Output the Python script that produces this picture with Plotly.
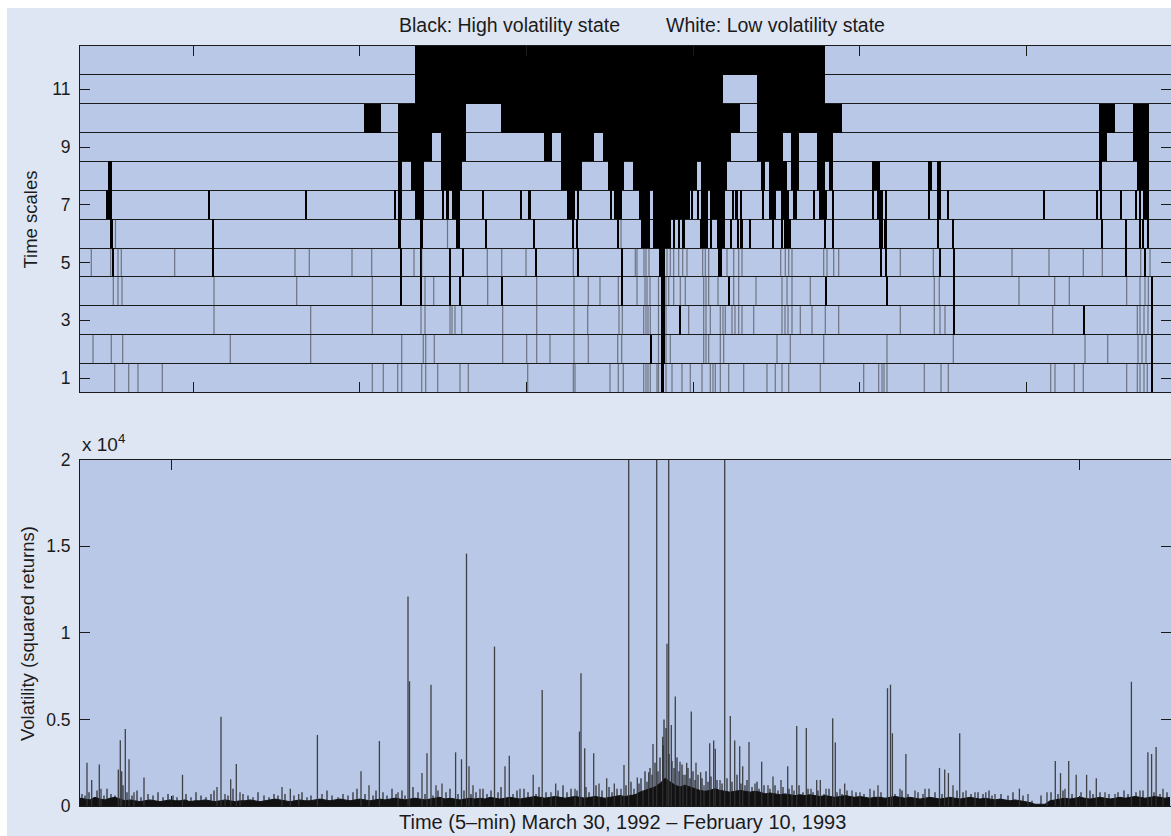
import plotly.graph_objects as go

# Both panels share one time axis, expressed in time bins
X_MAX = 1091

# ---------------------------------------------------------------------------
# Top panel: high-volatility runs (start, end) for each of the 12 time scales
# ---------------------------------------------------------------------------
runs_s12 = [(335, 745)]
runs_s11 = [(335, 643), (677, 745)]
runs_s10 = [(284, 301), (318, 386), (421, 660), (677, 762), (1019, 1035), (1053, 1069)]
runs_s9 = [(318, 352), (361, 386), (464, 472), (481, 514), (523, 651), (677, 703),
           (711, 719), (737, 753), (1019, 1027), (1053, 1069)]
runs_s8 = [(28, 32), (318, 321.5), (331, 344), (361, 382), (481, 502), (528, 544),
           (553, 617), (621, 647), (681, 685), (689, 707), (711, 719), (737, 745),
           (749, 753), (792, 800), (848, 852), (857, 861), (1019, 1022), (1057, 1069)]
runs_s7 = [(26, 32.3), (128.3, 130.3), (224.7, 226.7), (314.3, 315.7), (317.7, 321.7),
           (335, 344), (362.3, 364.3), (365.7, 369.3), (371.7, 380), (402, 403.7),
           (440.3, 442.3), (448.3, 450.7), (487, 495.3), (497, 499.3), (530, 532),
           (534.3, 542.3), (559.3, 570.3), (572.7, 610.3), (611.3, 613), (617, 618.7),
           (621.3, 628), (630, 645.3), (652, 653.7), (655.3, 658), (660.3, 662),
           (682, 683.7), (689.3, 696), (701, 708.7), (713.3, 717.3), (733.7, 735.3),
           (738.7, 747), (752, 753.3), (792, 794.3), (796.7, 802.7), (805.3, 807),
           (847.7, 850), (856.7, 860.7), (866.7, 869), (963, 965), (1016.3, 1017.7),
           (1020, 1022.3), (1040, 1042), (1055, 1056.7), (1059.3, 1060.7), (1063.3, 1069.3)]
runs_s6 = [(30, 33.3), (131.7, 133.7), (317.7, 321), (340, 342.7), (376, 380.3),
           (405, 406.7), (453.3, 455.3), (492.7, 494.3), (496, 497.7), (536.7, 539.3),
           (561.3, 570.3), (572.7, 591.3), (592.7, 594.7), (597.7, 600.3), (602, 605.3),
           (620.3, 628), (630.3, 632), (637, 645.3), (650.3, 652), (657, 658.7),
           (660.3, 663), (669.3, 671), (692, 693.7), (700.7, 702.7), (704, 711.3),
           (743.7, 746), (752, 753.7), (798.7, 802.7), (804, 806.7), (857.3, 859.3),
           (872, 874.3), (1021, 1023), (1045.7, 1047), (1058.7, 1060.7), (1062, 1064.3),
           (1066.7, 1068.7)]
runs_s5 = [(32, 33.5), (132.5, 134), (319.5, 321.5), (339.5, 341.5), (368.5, 370.5),
           (381.5, 383.5), (454.5, 456.5), (497, 499), (541, 543), (579, 585),
           (638, 642), (800, 802), (804.5, 806.5), (858.5, 860.5), (873, 875),
           (1045, 1047), (1064, 1066)]
runs_s4 = [(320.5, 322), (340, 342), (369, 371), (378.5, 380.5), (421.5, 423),
           (541.5, 543), (580.5, 584.5), (647.7, 649.7), (745, 747), (806, 808),
           (873, 875), (1071, 1072.5)]
runs_s3 = [(580.5, 584.5), (599.5, 601), (873, 875), (1003, 1005), (1071, 1072.5)]
runs_s2 = [(570, 571.5), (580.5, 584.5), (1071, 1072.5)]
runs_s1 = [(580.5, 584), (1071, 1072.5)]

# Brief (single-bin) high-volatility flags, drawn as faint lines
flags_s6 = [35.5, 367.5, 541]
flags_s5 = [11.3, 30.7, 38, 41.3, 94.7, 215, 229.3, 272, 291.7, 334, 341.7, 407.3,
            421.7, 446, 493.3, 555.3, 557, 564, 566, 569, 587, 590.3, 593.7, 598.7,
            602.7, 607, 622.7, 625.3, 628.7, 647, 653.7, 658.7, 662, 700.7, 705.3,
            708.7, 712, 743.7, 747, 753.7, 758.7, 820.3, 853.3, 932, 969, 1003.3,
            1022.3, 1060.7, 1070]
flags_s4 = [33.3, 38, 42, 134, 216.7, 292.3, 345, 353.7, 407.7, 456.7, 494, 508.3,
            520, 538.3, 557, 565, 567, 570, 578.5, 586, 588.7, 593.7, 600.3, 605.3,
            623.7, 626, 628.7, 638, 653.7, 658.7, 676, 702, 707, 712, 730.3, 854.3,
            859.3, 939, 974.7, 989.3, 1046.7, 1060, 1065, 1068.3]
flags_s3 = [134, 230.7, 292.3, 341, 345, 370, 372, 375, 381.7, 422.7, 456.7, 494,
            507.7, 539, 542.3, 563.7, 566, 568, 570.3, 578.5, 586, 608.7, 623.7, 626,
            630.3, 640.3, 643, 645.3, 652, 655, 658.7, 662, 673.7, 702, 705, 708, 712,
            720.3, 732, 745.3, 758.7, 820.3, 854.3, 860, 865, 972.7, 1057.3, 1060,
            1064, 1068]
flags_s2 = [13, 31.3, 42.7, 150.3, 230.7, 321.7, 343.3, 345.7, 354.3, 422.7, 446.7,
            456.7, 470, 494, 508.3, 537.7, 541.7, 578.5, 586, 590.3, 623.7, 626, 628.7,
            640.3, 643.7, 697, 710.3, 743.7, 807, 873.3, 1005, 1027.7, 1058, 1062, 1066]
flags_s1 = [34.7, 48.7, 58, 82.3, 292.3, 303.3, 317.7, 321.7, 341.7, 345.7, 357.7,
            380, 388.3, 447.7, 493.3, 495, 530, 538.3, 543.3, 563.7, 566, 568, 570.3,
            577, 578.5, 586, 592, 602, 610.3, 622, 630.3, 633, 635.3, 640.3, 648.7,
            663.7, 687, 695.3, 702, 708.7, 740.3, 783.7, 798.7, 802, 804, 807, 844.3,
            861, 868.3, 970.7, 975, 994.3, 1003.3, 1046.7, 1057.3, 1060, 1064, 1067.3]

runs_by_scale = {12: runs_s12, 11: runs_s11, 10: runs_s10, 9: runs_s9, 8: runs_s8,
                 7: runs_s7, 6: runs_s6, 5: runs_s5, 4: runs_s4, 3: runs_s3,
                 2: runs_s2, 1: runs_s1}
flags_by_scale = {6: flags_s6, 5: flags_s5, 4: flags_s4, 3: flags_s3,
                  2: flags_s2, 1: flags_s1}

scale_ticks = [1, 3, 5, 7, 9, 11]
scale_bounds = [k + 0.5 for k in range(0, 13)]
time_ticks_top = [113.3, 279.7, 446.3, 613.3, 779.3, 946.3]
time_ticks_bottom = [91.8, 999.2]

# ---------------------------------------------------------------------------
# Bottom panel: squared returns (units of 10^4)
# ---------------------------------------------------------------------------
noise_step = 5
noise_v = [
    0.045, 0.04, 0.035, 0.05,
    0.04, 0.035, 0.045, 0.05, 0.04, 0.03,
    0.035, 0.03, 0.025, 0.03, 0.035, 0.03, 0.025, 0.03, 0.035, 0.03,
    0.03, 0.035, 0.025, 0.03, 0.03, 0.035, 0.03, 0.025, 0.03, 0.035,
    0.03, 0.025, 0.03, 0.03, 0.035, 0.03, 0.025, 0.03, 0.035, 0.04,
    0.035, 0.03, 0.025, 0.03, 0.035, 0.03, 0.03, 0.035, 0.04, 0.035,
    0.03, 0.035, 0.04, 0.035, 0.03, 0.035, 0.04, 0.035, 0.03, 0.035,
    0.04, 0.035, 0.04, 0.045, 0.04, 0.035, 0.04, 0.045, 0.04, 0.035,
    0.04, 0.045, 0.05, 0.04, 0.045, 0.04, 0.035, 0.04, 0.045, 0.04,
    0.045, 0.04, 0.05, 0.045, 0.04, 0.045, 0.05, 0.045, 0.04, 0.045,
    0.05, 0.055, 0.05, 0.045, 0.05, 0.055, 0.05, 0.045, 0.05, 0.055,
    0.05, 0.045, 0.05, 0.055, 0.05, 0.045, 0.05, 0.055, 0.06, 0.055,
    0.06, 0.065, 0.08, 0.09, 0.1, 0.11, 0.13, 0.16, 0.14, 0.12,
    0.11, 0.12, 0.11, 0.1, 0.09, 0.085, 0.09, 0.1, 0.09, 0.085,
    0.08, 0.085, 0.09, 0.085, 0.08, 0.085, 0.08, 0.07, 0.075, 0.07,
    0.065, 0.07, 0.065, 0.06, 0.065, 0.06, 0.065, 0.06, 0.055, 0.06,
    0.055, 0.05, 0.055, 0.06, 0.055, 0.05, 0.055, 0.05, 0.045, 0.05,
    0.05, 0.045, 0.05, 0.055, 0.05, 0.045, 0.05, 0.045, 0.04, 0.045,
    0.05, 0.045, 0.04, 0.045, 0.05, 0.045, 0.04, 0.045, 0.05, 0.045,
    0.04, 0.045, 0.04, 0.035, 0.04, 0.035, 0.03, 0.035, 0.03, 0.025,
    0.02, 0.01, 0.008, 0.01, 0.03, 0.035, 0.04, 0.045, 0.04, 0.045,
    0.05, 0.045, 0.04, 0.045, 0.05, 0.045, 0.04, 0.045, 0.05, 0.045,
    0.05, 0.055, 0.05, 0.045, 0.05, 0.055, 0.05, 0.045, 0.05,
]
noise_t = [i * noise_step for i in range(len(noise_v))]

# small bursts riding on the background band
minor_t = [2, 5, 9, 14, 17, 24, 27, 31, 35, 43, 47, 52, 57, 61, 68, 73, 78, 83, 88, 93,
           97, 106, 111, 116, 121, 126, 131, 134, 148, 153, 163, 168, 173, 178, 184,
           189, 194, 198, 205, 214, 222, 227, 231, 242, 247, 252, 258, 263, 268, 273,
           277, 285, 293, 296, 303, 307, 312, 316, 322, 325, 333, 338, 345, 353, 358,
           366, 370, 378, 384, 391, 396, 403, 407, 411, 418, 421, 433, 437, 444, 448,
           456, 459, 466, 478, 483, 487, 491, 497, 506, 509, 516, 522, 529, 532, 537,
           546, 551, 554, 559, 561, 565, 567, 570, 572, 575, 578, 580, 583, 584, 586,
           589, 592, 594, 597, 599, 602, 605, 608, 610, 613, 615, 618, 622, 626, 628,
           631, 637, 642, 647, 652, 657, 661, 665, 667, 672, 677, 679, 684, 690, 695,
           698, 703, 709, 714, 719, 723, 728, 733, 738, 744, 749, 757, 762, 767, 776,
           784, 794, 801, 815, 822, 828, 838, 843, 849, 855, 862, 877, 883, 891, 898,
           903, 909, 912, 921, 928, 933, 943, 952, 961, 971, 978, 983, 992, 1001, 1010,
           1013, 1020, 1029, 1038, 1044, 1048, 1056, 1063, 1074, 1080, 1087]
minor_v = [0.07, 0.06, 0.08, 0.05, 0.09, 0.06, 0.1, 0.07, 0.06, 0.12, 0.08, 0.06, 0.09,
           0.05, 0.07, 0.06, 0.08, 0.05, 0.07, 0.06, 0.05, 0.07, 0.05, 0.08, 0.06, 0.05,
           0.07, 0.09, 0.06, 0.1, 0.07, 0.06, 0.05, 0.08, 0.06, 0.05, 0.07, 0.06, 0.07,
           0.06, 0.08, 0.05, 0.06, 0.07, 0.09, 0.06, 0.05, 0.07, 0.06, 0.08, 0.1, 0.07,
           0.06, 0.09, 0.08, 0.06, 0.1, 0.07, 0.09, 0.06, 0.11, 0.08, 0.07, 0.06, 0.09,
           0.08, 0.1, 0.07, 0.09, 0.07, 0.08, 0.1, 0.07, 0.09, 0.08, 0.11, 0.07, 0.09,
           0.1, 0.08, 0.07, 0.11, 0.08, 0.09, 0.12, 0.08, 0.1, 0.09, 0.11, 0.08, 0.12,
           0.09, 0.11, 0.08, 0.1, 0.12, 0.14, 0.1, 0.13, 0.16, 0.2, 0.14, 0.22, 0.18,
           0.25, 0.2, 0.28, 0.35, 0.5, 0.45, 0.3, 0.26, 0.22, 0.28, 0.2, 0.24, 0.18,
           0.22, 0.16, 0.2, 0.15, 0.18, 0.16, 0.2, 0.14, 0.17, 0.15, 0.13, 0.16, 0.14,
           0.18, 0.13, 0.12, 0.15, 0.11, 0.14, 0.1, 0.12, 0.1, 0.12, 0.09, 0.11, 0.1,
           0.09, 0.12, 0.08, 0.1, 0.08, 0.09, 0.07, 0.1, 0.08, 0.07, 0.09, 0.08, 0.07,
           0.09, 0.08, 0.07, 0.09, 0.07, 0.08, 0.07, 0.1, 0.08, 0.07, 0.09, 0.08, 0.07,
           0.08, 0.07, 0.09, 0.06, 0.07, 0.06, 0.08, 0.06, 0.03, 0.06, 0.08, 0.07, 0.09,
           0.07, 0.08, 0.09, 0.07, 0.08, 0.07, 0.08, 0.09, 0.07, 0.08, 0.09, 0.08, 0.07,
           0.08]

spike_t = [7, 11.7, 19.3, 21, 38.3, 40.3, 41.7, 45.3, 49, 54, 64, 102.5, 137, 141,
           145, 150.7, 156.3, 160, 202, 210.3, 218.7, 237.4, 281, 289, 299.4, 318,
           328, 329.5, 342, 347, 351, 356, 362, 375.6, 381.5, 386.5, 389, 393, 400,
           414.5, 425, 429.3, 440, 453.2, 462.2, 471, 475.7, 495, 499.5, 501,
           504.7, 513.7, 519, 526.7, 534.3, 541, 544, 548.7, 557.3, 563, 568.7, 573,
           576.7, 582.7, 587, 588.7, 591.3, 595.3, 600, 603, 606.7, 611.3, 616,
           620.7, 624, 629.7, 633.7, 635.3, 640, 644.7, 650.3, 654.7, 659.7, 662.7,
           669, 675, 681.7, 688, 693, 701, 707.7, 712, 716.7, 726.3, 731, 736.7,
           740.3, 746, 752.7, 755.3, 760, 764.7, 772, 780, 790, 798, 807.5, 810.5,
           812.4, 820, 825.9, 835, 845, 859.5, 864.7, 868.4, 873, 879.7, 886, 895,
           905.8, 915, 939.4, 948, 967, 975.3, 980.5, 985, 988.7, 996.2, 1006.6,
           1016.3, 1025, 1035, 1051.4, 1060, 1067.9, 1071.6, 1076.1, 1083]
spike_v = [0.25, 0.15, 0.24, 0.10, 0.21, 0.38, 0.20, 0.445, 0.27, 0.08, 0.165, 0.18,
           0.11, 0.515, 0.07, 0.155, 0.243, 0.08, 0.11, 0.10, 0.07, 0.41, 0.20, 0.12,
           0.375, 0.08, 1.21, 0.72, 0.19, 0.305, 0.70, 0.12, 0.13, 0.31, 0.27, 1.457,
           0.23, 0.12, 0.10, 0.92, 0.23, 0.29, 0.10, 0.18, 0.67, 0.08, 0.13, 0.10,
           0.43, 0.767, 0.333, 0.305, 0.13, 0.16, 0.13, 0.10, 0.237, 2.4, 0.164, 0.09,
           0.195, 0.358, 2.3, 0.40, 0.936, 2.5, 0.468, 0.632, 0.256, 0.18, 0.25,
           0.545, 0.25, 0.195, 0.12, 0.362, 0.378, 0.33, 0.15, 2.2, 0.52, 0.378,
           0.345, 0.23, 0.37, 0.13, 0.256, 0.12, 0.17, 0.15, 0.23, 0.12, 0.462,
           0.45, 0.10, 0.15, 0.15, 0.10, 0.507, 0.366, 0.10, 0.13, 0.09, 0.08, 0.10,
           0.12, 0.68, 0.70, 0.42, 0.10, 0.30, 0.09, 0.10, 0.22, 0.21, 0.19, 0.12,
           0.42, 0.09, 0.08, 0.08, 0.07, 0.10, 0.07, 0.08, 0.26, 0.19, 0.10, 0.26,
           0.18, 0.18, 0.16, 0.08, 0.07, 0.717, 0.09, 0.31, 0.30, 0.34, 0.10]

vol_ticks = [0, 0.5, 1, 1.5, 2]
vol_ticktext = ["0", "0.5", "1", "1.5", "2"]

# ---------------------------------------------------------------------------
FONT = "Liberation Sans, Arial, Helvetica, sans-serif"
INK = "#1b1b1b"
PLOT_BG = "#B9C8E6"
PAPER_BG = "#DFE6F3"

fig = go.Figure()

# faint single-bin flags in the state map
fx, fy = [], []
for s, xs in flags_by_scale.items():
    for t in xs:
        fx += [t, t, None]
        fy += [s - 0.5, s + 0.5, None]
fig.add_trace(go.Scatter(x=fx, y=fy, mode="lines", xaxis="x", yaxis="y",
                         line=dict(color="rgba(45,45,50,0.55)", width=1.2),
                         hoverinfo="skip"))

# high-volatility runs in the state map
bar_y, bar_base, bar_len = [], [], []
for s, runs in runs_by_scale.items():
    for a, b in runs:
        bar_y.append(s)
        bar_base.append(a)
        bar_len.append(b - a)
fig.add_trace(go.Bar(orientation="h", y=bar_y, x=bar_len, base=bar_base, width=1,
                     xaxis="x", yaxis="y", marker=dict(color="#000000", line=dict(width=0)),
                     hoverinfo="skip"))

# squared returns: dense low-level band, small bursts and individual spikes
fig.add_trace(go.Scatter(x=noise_t, y=noise_v, mode="lines", fill="tozeroy",
                         xaxis="x2", yaxis="y2", line=dict(color="#111111", width=1),
                         fillcolor="#111111", hoverinfo="skip"))
mx, my = [], []
for t, v in zip(minor_t, minor_v):
    mx += [t, t, None]
    my += [0, v, None]
fig.add_trace(go.Scatter(x=mx, y=my, mode="lines", xaxis="x2", yaxis="y2",
                         line=dict(color="rgba(20,20,22,0.9)", width=1.2),
                         hoverinfo="skip"))
sx, sy = [], []
for t, v in zip(spike_t, spike_v):
    sx += [t, t, None]
    sy += [0, v, None]
fig.add_trace(go.Scatter(x=sx, y=sy, mode="lines", xaxis="x2", yaxis="y2",
                         line=dict(color="rgba(50,50,52,0.9)", width=1.3),
                         hoverinfo="skip"))

axis_common = dict(showline=True, linecolor=INK, linewidth=1, mirror="ticks",
                   ticks="inside", ticklen=10, tickcolor=INK, tickwidth=1,
                   zeroline=False, showgrid=False,
                   tickfont=dict(family=FONT, size=17.5, color=INK))

fig.update_layout(
    width=1171, height=836,
    margin=dict(l=80, r=0, t=46, b=30),
    paper_bgcolor=PAPER_BG, plot_bgcolor=PLOT_BG,
    showlegend=False, barmode="overlay", bargap=0,
    xaxis=dict(domain=[0, 1], range=[0, X_MAX], anchor="y", tickmode="array",
               tickvals=time_ticks_top, showticklabels=False, **axis_common),
    yaxis=dict(domain=[0.5441, 1], range=[0.5, 12.5], anchor="x", tickmode="array",
               tickvals=scale_ticks, ticklabelstandoff=5,
               minor=dict(tickmode="array", tickvals=scale_bounds, showgrid=True,
                          gridcolor=INK, gridwidth=1, ticks=""),
               **axis_common),
    xaxis2=dict(domain=[0, 1], range=[0, X_MAX], anchor="y2", tickmode="array",
                tickvals=time_ticks_bottom, showticklabels=False, **axis_common),
    yaxis2=dict(domain=[0, 0.4559], range=[0, 2], anchor="x2", tickmode="array",
                tickvals=vol_ticks, ticktext=vol_ticktext, ticklabelstandoff=5,
                **axis_common),
)

title_font = dict(family=FONT, size=19.5, color=INK)
side_font = dict(family=FONT, size=18.5, color=INK)
fig.add_annotation(text="Black: High volatility state", xref="paper", yref="paper",
                   x=(397 - 80) / 1091, y=1.0276, xanchor="left", yanchor="middle",
                   showarrow=False, font=title_font)
fig.add_annotation(text="White: Low volatility state", xref="paper", yref="paper",
                   x=(664 - 80) / 1091, y=1.0276, xanchor="left", yanchor="middle",
                   showarrow=False, font=title_font)
fig.add_annotation(text="Time scales", xref="paper", yref="paper",
                   x=-0.0458, y=0.7717, textangle=-90, xanchor="center",
                   yanchor="middle", showarrow=False, font=side_font)
fig.add_annotation(text="Volatility (squared returns)", xref="paper", yref="paper",
                   x=-0.0486, y=0.2276, textangle=-90, xanchor="center",
                   yanchor="middle", showarrow=False, font=side_font)
fig.add_annotation(text="x 10<sup>4</sup>", xref="paper", yref="paper",
                   x=0.0, y=0.4776, xanchor="left", yanchor="middle",
                   showarrow=False, font=dict(family=FONT, size=19, color=INK))
fig.add_annotation(text="Time (5\u2013min) March 30, 1992 \u2013 February 10, 1993",
                   xref="paper", yref="paper", x=0.4968, y=-0.0211,
                   xanchor="center", yanchor="middle", showarrow=False,
                   font=dict(family=FONT, size=20, color=INK))

# thin white frame along the left and top edges of the page
fig.add_shape(type="rect", xref="paper", yref="paper", layer="above",
              x0=-0.08, x1=(7 - 80) / 1091, y0=-0.1, y1=1.1,
              fillcolor="white", line=dict(width=0))
fig.add_shape(type="rect", xref="paper", yref="paper", layer="above",
              x0=-0.08, x1=1.02, y0=(806 - 8) / 760, y1=1.1,
              fillcolor="white", line=dict(width=0))

fig.write_html("out.html")
